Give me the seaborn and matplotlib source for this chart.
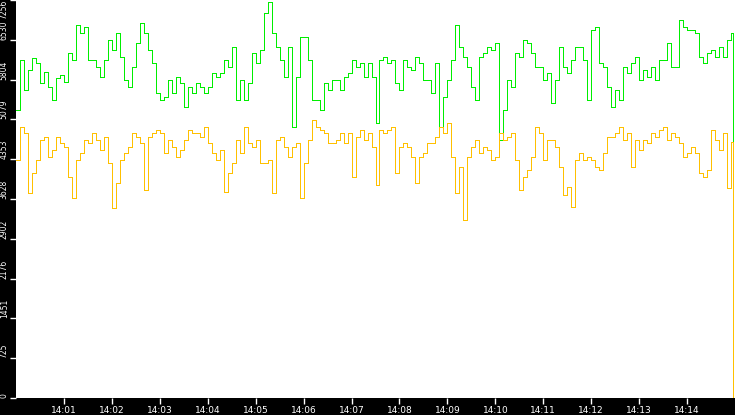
import numpy as np
import pandas as pd
import seaborn as sns
import matplotlib.pyplot as plt
import matplotlib.dates as mdates
from matplotlib import font_manager

# valori, un campione ogni 5 secondi a partire dalle 14:00:00
green = [5250, 6160, 5620, 5980, 6200, 6110, 5740, 5940, 5670, 5430, 5830, 5890, 5760, 6290, 6160, 6800,
         6650, 6760, 6160, 6160, 6040, 5850, 6160, 6530, 6340, 6650, 6220, 5800, 5670, 6040, 6470, 6840,
         6650, 6340, 6110, 5560, 5430, 5490, 5800, 5560, 5850, 5740, 5310, 5670, 5560, 5740, 5670,
         5560, 5670, 5930, 5850, 5930, 6160, 6040, 6400, 5430, 5800, 5430, 5740, 6290, 6110, 6340, 7020,
         7220, 6650, 6400, 6160, 5850, 6400, 4940, 5850, 6580, 6580, 6160, 5430, 5430, 5250, 5740, 5620, 5800,
         5800, 5620, 5850, 5930, 6160, 6040, 6110, 5850, 6110, 5850, 5010, 6160, 6220, 6110, 6160, 5740,
         5620, 6160, 6040, 5980, 6220, 6110, 5800, 5800, 5560, 6110, 4940, 5490, 5800, 6160, 6800, 6400,
         6220, 6040,
         5670, 5430, 6220, 6290, 6400, 6340, 6470, 4700, 5250, 5800, 5670, 6290, 6220, 6530, 6470, 6290,
         6040, 6040, 5800, 5930, 5380, 5800, 6400, 6040, 5930, 6160, 6400, 6400, 6160, 5430, 6710, 6760,
         6110, 6040,
         5670, 5310, 5620, 5430, 6040, 5930, 6110, 6220, 5800, 5980, 5850, 6040, 5800, 6160, 6160, 6470,
         6040, 6040, 6890, 6760, 6710, 6710, 6650, 6220, 6110, 6290, 6340, 6220, 6400, 6220, 6530, 6650,
         2100]

orange = [4340, 4940, 4830, 3740, 4100, 4340, 4700, 4760, 4390, 4520, 4760, 4650, 4580, 4030, 3650, 4340,
          4470, 4700, 4650, 4830, 4700, 4520, 4760, 4290, 3470, 3920, 4340, 4470, 4580, 4830, 4760, 4650,
          3790, 4760, 4830, 4890, 4830, 4470, 4700, 4580, 4390, 4520, 4700, 4890, 4830, 4830, 4760,
          4940, 4650, 4470, 4340, 4520, 3760, 4100, 4290, 4700, 4470, 4940, 4650, 4580, 4700, 4290, 4290,
          4340, 3740, 4700, 4760, 4580, 4390, 4580, 4650, 3650, 4290, 4700, 5070, 4940, 4890, 4830, 4650, 4650,
          4700, 4830, 4650, 4830, 4030, 4760, 4890, 4700, 4830, 4580, 3880, 4890, 4830, 4890, 4940, 4100,
          4580, 4650, 4580, 4390, 3920, 4390, 4470, 4650, 4650, 4760, 4940, 4830, 5010, 4390, 3740, 4210,
          3240, 4390,
          4580, 4700, 4470, 4580, 4520, 4340, 4390, 4830, 4700, 4760, 4830, 4340, 3800, 4030, 4160, 4390,
          4940, 4830, 4340, 4700, 4700, 4580, 4210, 3700, 3850, 3480, 4340, 4470, 4340, 4390, 4340, 4210,
          4160, 4470,
          4760, 4760, 4830, 4940, 4700, 4830, 4210, 4700, 4520, 4700, 4650, 4830, 4760, 4890, 4940, 4700,
          4830, 4760, 4650, 4390, 4470, 4580, 4470, 4100, 4030, 4160, 4890, 4700, 4520, 4830, 3830, 4670,
          0]

ytick_vals = [0, 725.6, 1451.2, 2176.8, 2902.4, 3628, 4353.6, 5079.2, 5804.8, 6530.4, 7256]
ytick_labels = ["0", "725", "1451", "2176", "2902", "3628", "4353", "5079", "5804", "6530", "7256"]

times = list(pd.date_range("2024-01-01 14:00:00", periods=len(green) - 1, freq="5s"))
times.append(pd.Timestamp("2024-01-01 14:14:58"))

df = pd.concat([
    pd.DataFrame({"time": times, "value": green, "serie": "a"}),
    pd.DataFrame({"time": times, "value": orange, "serie": "b"}),
], ignore_index=True)

# font stretto per le etichette verticali, se c'e'
installed = {f.name for f in font_manager.fontManager.ttflist}
narrow = "Liberation Sans Narrow" if "Liberation Sans Narrow" in installed else "DejaVu Sans"
ysize = 6.5 if narrow != "DejaVu Sans" else 5.5

fig = plt.figure(figsize=(7.35, 4.15), dpi=100, facecolor="black")
ax = fig.add_axes([16 / 735, 17 / 415, 719 / 735, 398 / 415])
ax.set_facecolor("white")

sns.lineplot(data=df, x="time", y="value", hue="serie", palette={"a": "#00ee00", "b": "#ffc000"},
             estimator=None, drawstyle="steps-post", linewidth=0.72, antialiased=False,
             legend=False, ax=ax)

ax.set_xlim(pd.Timestamp("2024-01-01 14:00:00"), pd.Timestamp("2024-01-01 14:15:00"))
ax.set_ylim(0, 7256)
ax.xaxis.set_major_locator(mdates.MinuteLocator(byminute=range(1, 15)))
ax.xaxis.set_major_formatter(mdates.DateFormatter("%H:%M"))
ax.set_yticks(ytick_vals)
ax.set_yticklabels(ytick_labels, rotation=90, va="bottom", ha="right", fontsize=ysize, family=narrow)
ax.get_yticklabels()[-1].set_va("top")
for t in ax.get_xticklabels():
    t.set_fontsize(6.5)

ax.tick_params(colors="white", length=4, width=1)
ax.tick_params(axis="y", pad=1.2)
ax.tick_params(axis="x", pad=1.5)
for s in ax.spines.values():
    s.set_visible(False)
ax.set_xlabel("")
ax.set_ylabel("")

fig.savefig("out.png", dpi=100, facecolor="black")
